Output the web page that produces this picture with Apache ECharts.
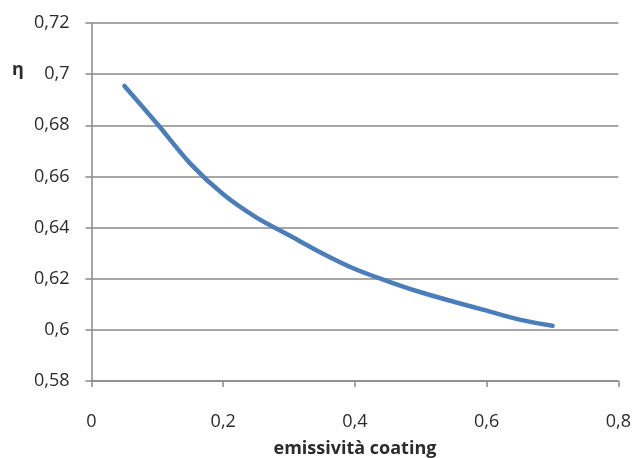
<!DOCTYPE html>
<html><head><meta charset="utf-8">
<script src="https://cdn.jsdelivr.net/npm/echarts@6/dist/echarts.min.js"></script>
<style>html,body{margin:0;padding:0;background:#fff}#c{width:633px;height:458px}</style>
</head><body><div id="c"></div>
<script>
const xValues = [0.05,0.1,0.15,0.2,0.25,0.3,0.35,0.4,0.45,0.5,0.55,0.6,0.65,0.7];
const etaValues = [0.6954,0.6805,0.6650,0.6530,0.6440,0.6370,0.6300,0.6238,0.6190,0.6147,0.6110,0.6075,0.6040,0.6016];
const xTitle = 'emissività coating';
const yTitle = 'η';
const fmt = v => String(+v.toFixed(2)).replace('.', ',');
const chart = echarts.init(document.getElementById('c'), null, {renderer:'canvas'});
const axisFont = {fontFamily:'Open Sans', fontSize:18, color:'#2b2b2b'};
chart.setOption({
  animation:false,
  graphic:[{type:'text', left:12, top:61, style:{text:yTitle, font:'bold 18px "Open Sans"', fill:'#2b2b2b'}}],
  grid:{left:91.5, right:14.6, top:23, bottom:77, outerBoundsMode:'none', containLabel:false},
  xAxis:{type:'value', min:0, max:0.8, interval:0.2,
    axisLine:{show:true, lineStyle:{color:'#8a8a8a', width:1.5}},
    axisTick:{show:true, length:6, lineStyle:{color:'#8a8a8a', width:1.5}},
    splitLine:{show:false},
    axisLabel:Object.assign({formatter:fmt, margin:32}, axisFont),
    name:xTitle, nameLocation:'middle', nameGap:59,
    nameTextStyle:{fontFamily:'Open Sans', fontSize:18, fontWeight:'bold', color:'#2b2b2b'}
  },
  yAxis:{type:'value', min:0.58, max:0.72, interval:0.02,
    axisLine:{show:true, lineStyle:{color:'#8a8a8a', width:1.5}},
    axisTick:{show:true, length:6, lineStyle:{color:'#8a8a8a', width:1.5}},
    splitLine:{show:true, lineStyle:{color:'#8a8a8a', width:1.5}},
    axisLabel:Object.assign({formatter:fmt, margin:22}, axisFont)
  },
  series:[{type:'line', data:xValues.map((x,i)=>[x,etaValues[i]]), smooth:0.3, symbol:'none',
    lineStyle:{color:'#4a7ebb', width:4.5, cap:'round'}}]
});
</script></body></html>
